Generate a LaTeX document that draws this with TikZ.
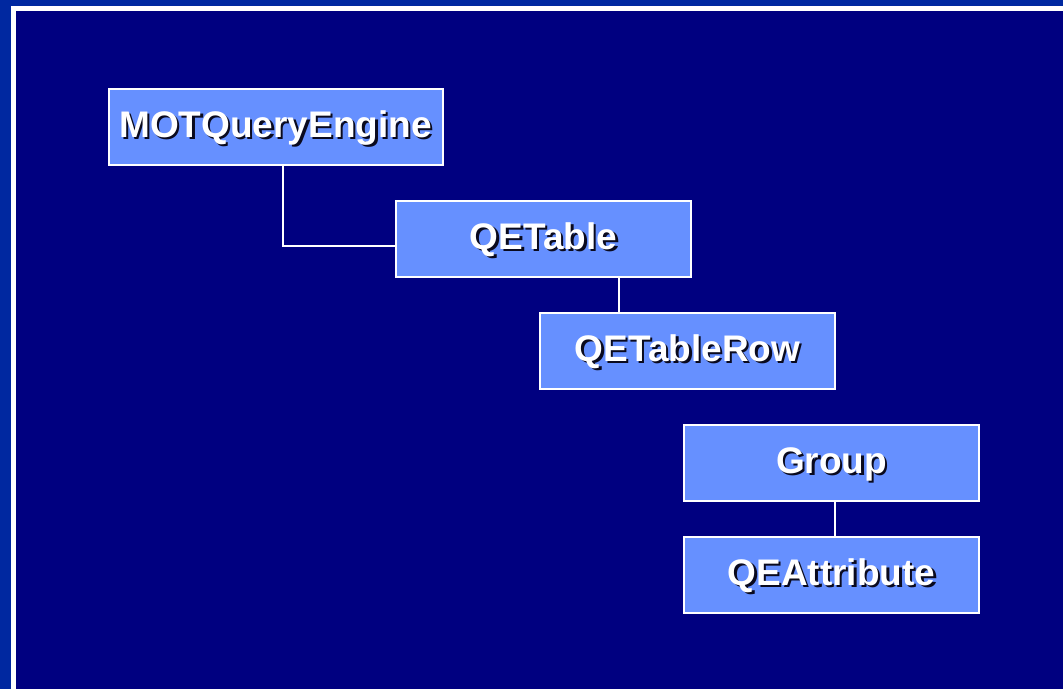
\documentclass[tikz,border=0pt]{standalone}
\usepackage{fontspec}
\setmainfont{Liberation Sans}
\definecolor{outerblue}{RGB}{0,40,160}
\definecolor{navy}{RGB}{0,0,128}
\definecolor{boxblue}{RGB}{102,144,255}
\definecolor{shadowc}{RGB}{10,10,30}
\newcommand\shtext[1]{\leavevmode\rlap{\kern2.4pt\raisebox{-2.4pt}{\textcolor{shadowc}{#1}}}#1}
\tikzset{
  box/.style={draw=white, line width=2pt, fill=boxblue, minimum width=295pt,
    minimum height=76pt, inner sep=0pt, text=white, text height=27pt, text depth=6pt,
    font=\bfseries\fontsize{37}{40}\selectfont},
  link/.style={draw=white, line width=2pt}
}
\begin{document}
\begin{tikzpicture}[x=1pt,y=-1pt]
\useasboundingbox (0,0) rectangle (1063,689);
\fill[outerblue] (0,0) rectangle (1063,689);
\fill[white] (11,6) rectangle (1063,689);
\fill[navy] (16,11) rectangle (1063,689);
\node[box, minimum width=334pt] (mot) at (275.5,126.5) {\shtext{MOTQueryEngine}};
\node[box] (qet) at (543.5,238.5) {\shtext{QETable}};
\node[box] (qtr) at (687.5,350.5) {\shtext{QETableRow}};
\node[box] (grp) at (831.5,462.5) {\shtext{Group}};
\node[box] (qea) at (831.5,574.5) {\shtext{QEAttribute}};
\coordinate (c1) at (283,246);
\coordinate (c2) at (619,0);
\coordinate (c3) at (835,0);
\draw[link] (mot.south -| c1) |- (qet.west |- c1);
\draw[link] (qet.south -| c2) -- (qtr.north -| c2);
\draw[link] (grp.south -| c3) -- (qea.north -| c3);
\end{tikzpicture}
\end{document}
